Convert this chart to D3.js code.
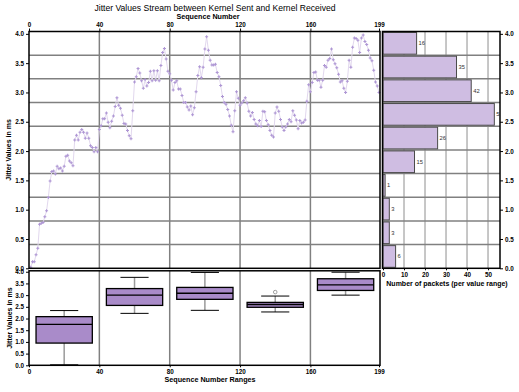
<!DOCTYPE html>
<html><head><meta charset="utf-8">
<script src="https://cdn.jsdelivr.net/npm/d3@7"></script>
<style>
body{margin:0;background:#fff}
svg{display:block}
text{font-family:"Liberation Sans",Arial,sans-serif}
</style>
</head><body>
<svg id="c" width="519" height="392"></svg>
<script>
// ---- data ----
const jitter = [
0.02,0.11,0.11,0.23,0.34,0.75,0.77,0.78,0.88,0.98,
1.21,1.49,1.65,1.66,1.61,1.74,1.70,1.71,1.66,1.74,
1.91,1.93,1.83,1.80,1.75,2.19,2.27,2.19,2.32,2.37,
2.32,2.22,2.31,2.22,2.09,2.06,1.99,2.06,1.99,2.37,
2.43,2.55,2.55,2.65,2.49,2.40,2.51,2.60,2.76,2.91,
2.78,2.73,2.61,2.47,2.46,2.35,2.26,2.21,2.69,3.18,
3.27,3.41,3.33,3.20,3.07,3.22,3.11,3.17,3.36,3.20,
3.37,3.21,3.37,3.20,3.46,3.68,3.75,3.57,3.36,3.32,
3.21,3.04,3.17,3.20,3.06,3.06,2.95,2.83,2.83,2.75,
2.70,2.77,2.62,2.74,3.01,3.29,3.44,3.25,3.43,3.74,
3.95,3.72,3.55,3.47,3.47,3.48,3.34,3.27,3.12,2.93,
2.83,2.80,2.71,2.60,2.44,2.33,2.69,3.01,2.90,2.78,
2.82,2.86,2.91,2.82,2.68,2.60,2.66,2.54,2.46,2.43,
2.52,2.42,2.68,2.67,2.52,2.45,2.35,2.27,2.24,2.65,
2.75,2.68,2.54,2.41,2.35,2.41,2.46,2.54,2.50,2.69,
2.61,2.53,2.38,2.52,2.48,2.49,2.53,2.85,3.13,3.01,
3.17,3.34,3.35,3.21,3.21,3.09,3.21,3.46,3.43,3.55,
3.58,3.74,3.56,3.49,3.42,3.31,3.18,3.20,3.07,3.00,
3.19,3.55,3.43,3.77,3.93,3.92,3.89,3.68,3.93,3.98,
3.87,3.82,3.72,3.59,3.54,3.38,3.18,3.11,3.00
];
const seqTicks = [0,40,80,120,160,199];
const valueTicks = [0.0,0.5,1.0,1.5,2.0,2.5,3.0,3.5,4.0];
const histCounts = [6,3,3,1,15,26,53,42,35,16];   // bins from low to high value
const countTicks = [0,10,20,30,40,50];
const rangeStart = [0,40,80,120,160];
const rangeEnd   = [40,80,120,160,200];
const boxQ1      = [0.95,2.56,2.82,2.48,3.20];
const boxMedian  = [1.75,3.00,3.08,2.60,3.44];
const boxQ3      = [2.08,3.28,3.33,2.69,3.70];
const whiskerLow = [0.02,2.22,2.35,2.28,3.00];
const whiskerHigh= [2.34,3.76,3.97,2.96,3.98];
const outliers   = [[],[],[],[3.13],[]];

const title = "Jitter Values Stream between Kernel Sent and Kernel Received";

// ---- layout ----
const svg = d3.select("#c");
const L=29, R=379, T=31.5, B=268.3;
const HL=382.5, HR=500;
const BT=270.8, BB=365.3;
const yMax = 4.04, nBins = 10;
const x  = d3.scaleLinear([0,199],[L,R]);
const y  = d3.scaleLinear([0,yMax],[B,T]);
const xh = d3.scaleLinear([0,55.7],[383,500]);
const yb = d3.scaleLinear([0,yMax],[BB,BT]);
const binEdges = d3.range(nBins+1).map(i=>i*yMax/nBins);

const gridDark="#808080", gridLight="#b4b4b4";
const purple="#a98bc9", lightPurple="#cfbde2";

svg.append("defs").append("clipPath").attr("id","histClip")
  .append("rect").attr("x",HL).attr("y",T).attr("width",HR-HL).attr("height",B-T);

// main vertical grid
svg.append("g").selectAll("line").data(seqTicks.slice(1,-1)).join("line")
  .attr("x1",d=>x(d)).attr("x2",d=>x(d)).attr("y1",T).attr("y2",B)
  .attr("stroke",gridDark).attr("stroke-width",1.5);
// histogram vertical grid
svg.append("g").selectAll("line").data(countTicks.slice(1)).join("line")
  .attr("x1",d=>xh(d)).attr("x2",d=>xh(d)).attr("y1",T).attr("y2",B)
  .attr("stroke",gridLight).attr("stroke-width",1.5);
// horizontal bin-edge grid (main + histogram)
const inner = binEdges.slice(1,-1);
svg.append("g").selectAll("line").data(inner).join("line")
  .attr("x1",L).attr("x2",R+1).attr("y1",d=>y(d)).attr("y2",d=>y(d))
  .attr("stroke",gridDark).attr("stroke-width",1.5);
svg.append("g").selectAll("line").data(inner).join("line")
  .attr("x1",HL).attr("x2",HR).attr("y1",d=>y(d)).attr("y2",d=>y(d))
  .attr("stroke",gridDark).attr("stroke-width",1.5);

// histogram bars
const hb = svg.append("g").attr("clip-path","url(#histClip)");
hb.selectAll("rect").data(histCounts).join("rect")
  .attr("x",xh(0))
  .attr("y",(d,i)=>y(binEdges[i+1])+1)
  .attr("width",d=>xh(d)-xh(0))
  .attr("height",(d,i)=>y(binEdges[i])-y(binEdges[i+1])-2)
  .attr("fill",lightPurple).attr("stroke","#4a4a4a").attr("stroke-width",1);
hb.selectAll("text").data(histCounts).join("text")
  .attr("x",d=>xh(d)+2)
  .attr("y",(d,i)=>(y(binEdges[i])+y(binEdges[i+1]))/2)
  .attr("dy","0.35em").attr("font-size",5.8).attr("fill","#333")
  .text(d=>d);

// line + markers
const pts = jitter.map((v,i)=>[i+1,v]);
svg.append("path").datum(pts)
  .attr("d",d3.line().x(d=>x(d[0])).y(d=>y(d[1])))
  .attr("fill","none").attr("stroke","#e2d8ee").attr("stroke-width",1);
svg.append("g").selectAll("path").data(pts).join("path")
  .attr("transform",d=>`translate(${x(d[0])},${y(d[1])})`)
  .attr("d",d3.symbol(d3.symbolCross,5))
  .attr("fill","#ae96d4");

// frames
svg.append("rect").attr("x",L).attr("y",T).attr("width",R+1-L).attr("height",B-T)
  .attr("fill","none").attr("stroke","#000").attr("stroke-width",1.5);
svg.append("rect").attr("x",HL).attr("y",T).attr("width",HR-HL).attr("height",B-T)
  .attr("fill","none").attr("stroke","#000").attr("stroke-width",1.5);

// ---- box plot panel ----
svg.append("g").selectAll("line").data(seqTicks.slice(1,-1)).join("line")
  .attr("x1",d=>x(d)).attr("x2",d=>x(d)).attr("y1",BT).attr("y2",BB)
  .attr("stroke",gridDark).attr("stroke-width",1.5);
const bx = svg.append("g");
rangeStart.forEach((s,i)=>{
  const e=rangeEnd[i], w=e-s, c=(s+e)/2;
  const g=bx.append("g");
  g.append("line").attr("x1",x(c)).attr("x2",x(c)).attr("y1",yb(whiskerLow[i])).attr("y2",yb(whiskerHigh[i]))
    .attr("stroke","#9a9a9a").attr("stroke-width",1.5);
  [whiskerLow[i],whiskerHigh[i]].forEach(v=>{
    g.append("line").attr("x1",x(c-w*0.2)).attr("x2",x(c+w*0.2)).attr("y1",yb(v)).attr("y2",yb(v))
      .attr("stroke","#000").attr("stroke-width",1);
  });
  g.append("rect").attr("x",x(s+w*0.1)).attr("width",x(e-w*0.1)-x(s+w*0.1))
    .attr("y",yb(boxQ3[i])).attr("height",yb(boxQ1[i])-yb(boxQ3[i]))
    .attr("fill",purple).attr("stroke","#000").attr("stroke-width",1.3);
  g.append("line").attr("x1",x(s+w*0.1)).attr("x2",x(e-w*0.1)).attr("y1",yb(boxMedian[i])).attr("y2",yb(boxMedian[i]))
    .attr("stroke","#000").attr("stroke-width",1.3);
  outliers[i].forEach(v=>{
    g.append("circle").attr("cx",x(c)).attr("cy",yb(v)).attr("r",1.8)
      .attr("fill","none").attr("stroke","#888").attr("stroke-width",0.8);
  });
});
svg.append("rect").attr("x",L).attr("y",BT).attr("width",R+1-L).attr("height",BB-BT)
  .attr("fill","none").attr("stroke","#000").attr("stroke-width",1.5);

// ---- axes ----
function styleAxis(g){
  g.select(".domain").remove();
  g.selectAll("text").attr("font-size",6.3).attr("font-weight","bold").attr("font-family",'"Liberation Sans",Arial,sans-serif');
  g.selectAll("line").attr("stroke","#000");
}
const f1 = d3.format(".1f");
svg.append("g").attr("transform",`translate(0,${T})`)
  .call(d3.axisTop(x).tickValues(seqTicks).tickFormat(d3.format("d")).tickSize(3).tickPadding(2)).call(styleAxis);
svg.append("g").attr("transform",`translate(${L},0)`)
  .call(d3.axisLeft(y).tickValues(valueTicks).tickFormat(f1).tickSize(3).tickPadding(2)).call(styleAxis);
svg.append("g").attr("transform",`translate(${HR},0)`)
  .call(d3.axisRight(y).tickValues(valueTicks).tickFormat(f1).tickSize(3).tickPadding(2)).call(styleAxis);
svg.append("g").attr("transform",`translate(0,${B})`)
  .call(d3.axisBottom(xh).tickValues(countTicks).tickFormat(d3.format("d")).tickSize(2).tickPadding(2)).call(styleAxis);
svg.append("g").attr("transform",`translate(${L},0)`)
  .call(d3.axisLeft(yb).tickValues(valueTicks).tickFormat(f1).tickSize(3).tickPadding(2)).call(styleAxis);
svg.append("g").attr("transform",`translate(0,${BB})`)
  .call(d3.axisBottom(x).tickValues(seqTicks).tickFormat(d3.format("d")).tickSize(2).tickPadding(2)).call(styleAxis);

// ---- titles ----
svg.append("text").attr("x",215).attr("y",10.5).attr("text-anchor","middle")
  .attr("font-size",8.6).text(title);
svg.append("text").attr("x",208).attr("y",18.8).attr("text-anchor","middle")
  .attr("font-size",7.2).attr("font-weight","bold").text("Sequence Number");
svg.append("text").attr("transform",`translate(11,${(T+B)/2}) rotate(-90)`).attr("text-anchor","middle")
  .attr("font-size",7).attr("font-weight","bold").text("Jitter Values in ms");
svg.append("text").attr("transform",`translate(12,${(BT+BB)/2}) rotate(-90)`).attr("text-anchor","middle")
  .attr("font-size",7).attr("font-weight","bold").text("Jitter Values in ms");
svg.append("text").attr("x",447).attr("y",285.5).attr("text-anchor","middle")
  .attr("font-size",7).attr("font-weight","bold").text("Number of packets (per value range)");
svg.append("text").attr("x",210).attr("y",382).attr("text-anchor","middle")
  .attr("font-size",7.2).attr("font-weight","bold").text("Sequence Number Ranges");
</script>
</body></html>
